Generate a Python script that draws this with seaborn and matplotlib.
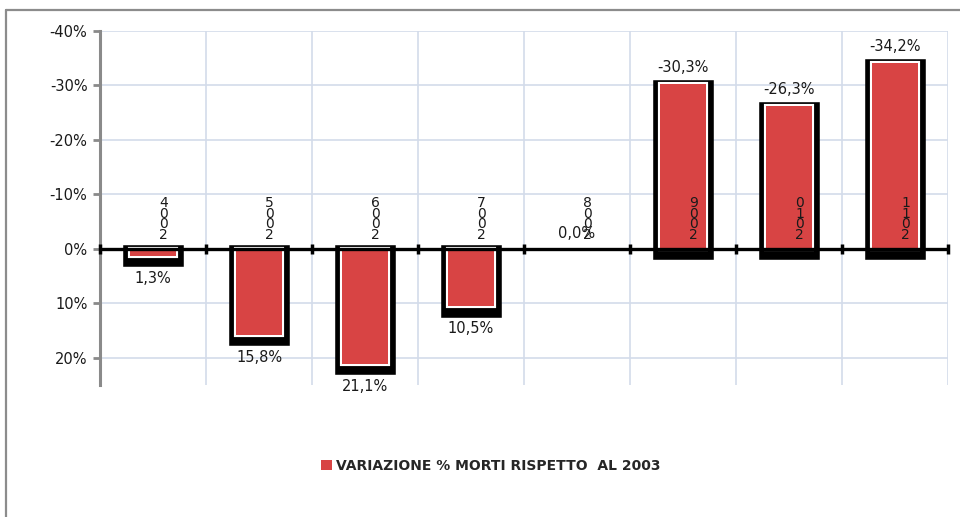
import matplotlib
matplotlib.use("Agg")
import matplotlib.pyplot as plt
import matplotlib.patheffects as pe
from matplotlib.patches import Patch
from matplotlib.lines import Line2D
import seaborn as sns
import pandas as pd

categories = ["2004", "2005", "2006", "2007", "2008", "2009", "2010", "2011"]
values = [1.3, 15.8, 21.1, 10.5, 0.0, -30.3, -26.3, -34.2]
yticks = [-40, -30, -20, -10, 0, 10, 20]
legend_label = "VARIAZIONE % MORTI RISPETTO  AL 2003"

sns.set_theme(style="white")
plt.rcParams["font.family"] = ["DejaVu Sans"]

RED = "#d84444"
GRID = "#d3dbea"
TXT = "#1a1a1a"

fig = plt.figure(figsize=(9.6, 5.17), dpi=100)
ax = fig.add_axes([100 / 960, 1 - 385 / 517, 848 / 960, (385 - 31) / 517])

df = pd.DataFrame({"anno": categories, "valore": values})
sns.barplot(data=df, x="anno", y="valore", ax=ax, color=RED, saturation=1,
            width=0.43, zorder=3)

for p, v in zip(ax.patches, values):
    p.set_edgecolor("none")
    if v == 0:
        continue
    p.set_path_effects([
        pe.Stroke(linewidth=10.5, foreground="black", offset=(0, -2.5), joinstyle="miter"),
        pe.Stroke(linewidth=3.0, foreground="white", joinstyle="miter"),
        pe.Normal(),
    ])

ax.set_ylim(25, -40)
ax.set_xlim(-0.5, len(categories) - 0.5)
ax.set_yticks(yticks)
ax.set_yticklabels([f"{t}%" for t in yticks], fontsize=10.5, color=TXT)
ax.set_xticks([])
ax.set_xlabel("")
ax.set_ylabel("")

# gridlines
for t in yticks:
    ax.axhline(t, color=GRID, lw=1.2, zorder=0)
for i in range(len(categories) + 1):
    ax.axvline(i - 0.5, color=GRID, lw=1.2, zorder=0)

for s in ["top", "right", "bottom"]:
    ax.spines[s].set_visible(False)
ax.spines["left"].set_color("#8a8a8a")
ax.spines["left"].set_linewidth(2.2)
ax.tick_params(axis="y", length=5, width=2, color="#8a8a8a", pad=4, left=True)

# zero axis line with boundary ticks
ax.axhline(0, color="black", lw=2.4, zorder=5)
for i in range(len(categories) + 1):
    ax.plot([i - 0.5, i - 0.5], [-0.9, 0.9], color="black", lw=2.5, zorder=5,
            solid_capstyle="butt", clip_on=False)

# category labels (stacked digits)
for i, c in enumerate(categories):
    ax.annotate("\n".join(reversed(c)), xy=(i + 0.1, 0), xytext=(0, 5),
                textcoords="offset points", ha="center", va="bottom",
                fontsize=10, linespacing=0.68, color=TXT, zorder=6)

# data labels
for i, v in enumerate(values):
    txt = f"{v:.1f}%".replace(".", ",")
    if v > 0:
        ax.annotate(txt, xy=(i, v), xytext=(0, -11), textcoords="offset points",
                    ha="center", va="top", fontsize=10.5, color=TXT, zorder=6)
    else:
        ax.annotate(txt, xy=(i, v), xytext=(0, 6), textcoords="offset points",
                    ha="center", va="bottom", fontsize=10.5, color=TXT, zorder=6)

# legend
handle = Patch(facecolor=RED, edgecolor="none")
fig.legend([handle], [legend_label], loc="center", bbox_to_anchor=(491 / 960, 1 - 466 / 517),
           frameon=False, handlelength=0.8, handleheight=0.8, handletextpad=0.3,
           prop={"weight": "bold", "size": 10})

# outer border (top and left)
fig.add_artist(Line2D([6 / 960, 1], [1 - 10 / 517, 1 - 10 / 517], color="#8c8c8c", lw=1.6))
fig.add_artist(Line2D([6 / 960, 6 / 960], [0, 1 - 10 / 517], color="#8c8c8c", lw=1.6))

fig.savefig("out.png", dpi=100)
